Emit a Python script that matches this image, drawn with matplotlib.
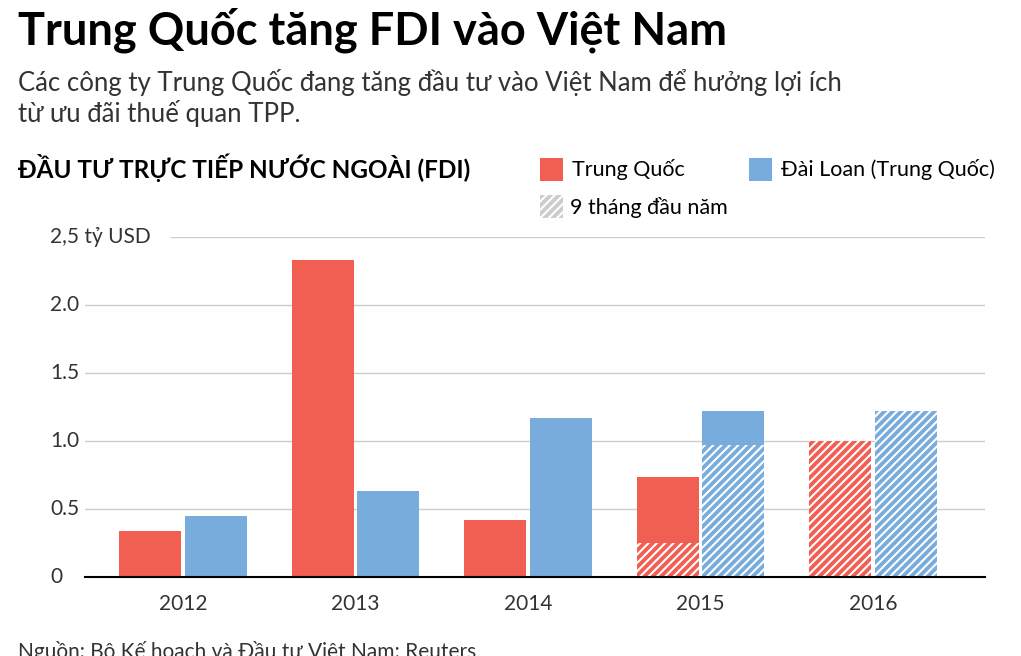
import matplotlib
matplotlib.use("Agg")
import matplotlib.pyplot as plt
from matplotlib.patches import Rectangle
import numpy as np

plt.rcParams['font.family'] = 'Lato'
plt.rcParams['hatch.color'] = 'white'
plt.rcParams['hatch.linewidth'] = 1.5

years = ["2012", "2013", "2014", "2015", "2016"]
china_total = [0.34, 2.33, 0.42, 0.735, 1.00]
china_9m = [0, 0, 0, 0.25, 1.00]
taiwan_total = [0.45, 0.63, 1.17, 1.22, 1.22]
taiwan_9m = [0, 0, 0, 0.97, 1.22]
yticks = [0, 0.5, 1.0, 1.5, 2.0, 2.5]
ytick_labels = ["0", "0.5", "1.0", "1.5", "2.0", "2,5 tỷ USD"]

RED = "#f05f51"
BLUE = "#78acdc"

fig = plt.figure(figsize=(10.21, 6.56), dpi=100)
ax = fig.add_axes([85/1021, 1-577/656, 900/1021, 340/656])
x = np.arange(len(years))
w = 0.36
off = 0.19
ax.bar(x - off, china_total, w, color=RED, linewidth=0)
ax.bar(x + off, taiwan_total, w, color=BLUE, linewidth=0)
ax.bar(x - off, china_9m, w, color=RED, hatch='////', linewidth=0)
ax.bar(x + off, taiwan_9m, w, color=BLUE, hatch='////', linewidth=0)

ax.set_xlim(-0.568, 4.65)
ax.set_ylim(0, 2.5)
for s in ['top', 'right', 'left']:
    ax.spines[s].set_visible(False)
ax.spines['bottom'].set_linewidth(1.5)
ax.set_yticks([])
for t, lab in zip(yticks, ytick_labels):
    if t > 0:
        xs = 0.095 if t == 2.5 else 0
        ax.axhline(t, xmin=xs, color="#cccccc", lw=1, zorder=0)
    fig.text(50/1021, ax.transData.transform((0, t))[1]/656, lab, fontsize=15,
             va='center', ha='left', color='#333333')
ax.set_xticks(x)
ax.set_xticklabels(years, fontsize=15, color='#333333')
ax.tick_params(axis='x', length=0, pad=12)

fig.text(18/1021, 1-30/656, "Trung Quốc tăng FDI vào Việt Nam", fontsize=32.5,
         fontweight='bold', va='center')
fig.text(18/1021, 1-98/656, "Các công ty Trung Quốc đang tăng đầu tư vào Việt Nam để hưởng lợi ích\ntừ ưu đãi thuế quan TPP.",
         fontsize=18.5, va='center', color='#333333', linespacing=1.2)
fig.text(18/1021, 1-168/656, "ĐẦU TƯ TRỰC TIẾP NƯỚC NGOÀI (FDI)", fontsize=17.5,
         fontweight='bold', va='center')

def legbox(xp, yp, color, hatch=None):
    fig.patches.append(Rectangle((xp/1021, 1-(yp+11)/656), 23/1021, 23/656,
                                 transform=fig.transFigure, facecolor=color,
                                 hatch=hatch, linewidth=0))
legbox(540, 170, RED)
fig.text(572/1021, 1-170/656, "Trung Quốc", fontsize=15.5, va='center')
legbox(749, 170, BLUE)
fig.text(781/1021, 1-170/656, "Đài Loan (Trung Quốc)", fontsize=15.5, va='center')
legbox(540, 207, "#cccccc", hatch='////')
fig.text(570/1021, 1-207/656, "9 tháng đầu năm", fontsize=15.5, va='center')

fig.text(18/1021, 1-652/656, "Nguồn: Bộ Kế hoạch và Đầu tư Việt Nam; Reuters", fontsize=15,
         va='center', color='#333333')

fig.savefig("out.png", dpi=100)
